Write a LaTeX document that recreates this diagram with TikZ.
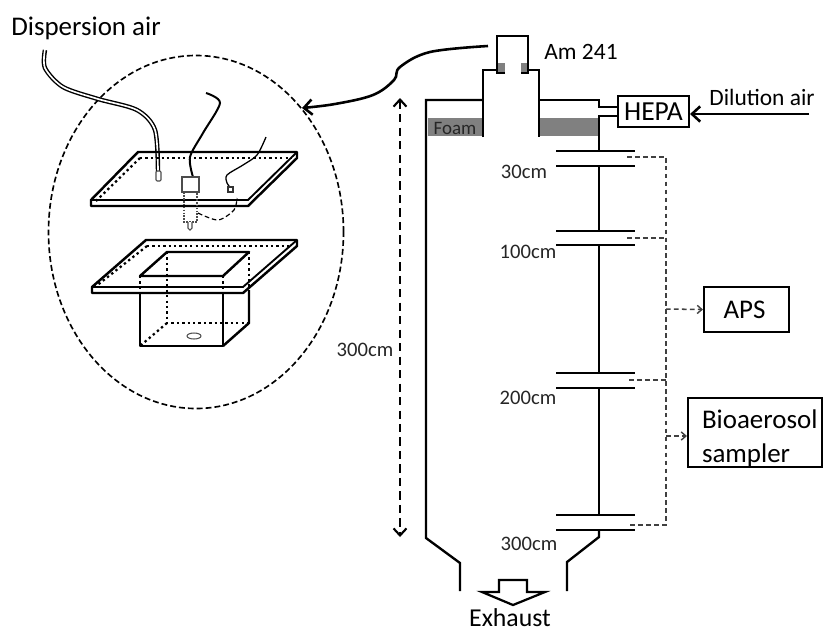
\documentclass[tikz,border=0pt]{standalone}
\usepackage{fontspec}
\setmainfont{Carlito}
\usetikzlibrary{shapes.geometric, arrows.meta, positioning}

\begin{document}
\begin{tikzpicture}[
    x=0.03cm, y=-0.03cm,
    wall/.style={line width=2pt, line join=miter},
    plate/.style={line width=2.1pt, line join=round},
    dots/.style={line width=1.9pt, dash pattern=on 2pt off 2.6pt},
    thindash/.style={line width=1.3pt, draw=black!75, dash pattern=on 4pt off 2.8pt},
    bigtext/.style={inner sep=0pt, font=\fontsize{23}{27}\selectfont},
    midtext/.style={inner sep=0pt, font=\fontsize{20}{24}\selectfont},
    cmtext/.style={inner sep=0pt, text=black!85, font=\fontsize{17.6}{21}\selectfont},
    boxnode/.style={draw, line width=1.8pt, inner sep=0pt, align=left},
    arrow/.style={-{Straight Barb[length=7pt,width=13pt]}, line width=2.2pt},
    smallarrow/.style={thindash, -{Straight Barb[length=4pt,width=7pt,line width=1.2pt]}}
]
\useasboundingbox (0,0) rectangle (824,630);

% inset
\node[draw, ellipse, line width=1.4pt, dash pattern=on 5pt off 2.6pt, minimum width=295*0.03cm, minimum height=353*0.03cm, inner sep=0pt] (inset) at (196,232) {};
\node[bigtext] (disp) at (86,28) {Dispersion air};

% tube
\draw[line width=3.8pt] plot[smooth] coordinates {(45,50) (45,68) (63,87) (98,99) (137,110) (155,130) (158,172)};
\draw[line width=1.4pt, white] plot[smooth] coordinates {(45,49) (45,68) (63,87) (98,99) (137,110) (155,130) (158,172)};
\draw[line width=0.9pt, draw=black!70, fill=white, rounded corners=1pt] (156,171) rectangle (161,181);

% upper plate
\draw[plate] (138,152) -- (297,152) -- (297,158) -- (248,206) -- (91,206) -- (91,200) -- cycle;
\draw[line width=1.6pt] (91,200) -- (248,200) -- (297,152);
\draw[dots] (140,158) -- (292,158);
\draw[dots] (140,158) -- (95,202);

% nozzle and wires
\draw[line width=1.7pt] plot[smooth] coordinates {(206,93) (220,103) (203,133) (190,157) (193,177)};
\draw[line width=1.1pt] plot[smooth] coordinates {(266,137) (257,155) (243,165) (227,175) (227,183) (230,187)};
\draw[line width=1pt, draw=black!80, fill=white] (228,187) rectangle (233,192);
\draw[line width=0.9pt, draw=black!70, fill=white] (182,177) rectangle (199,192);
\draw[line width=0.9pt, draw=black!70, dash pattern=on 1.5pt off 1pt] (184,192) -- (184,222) -- (197,222) -- (197,192);
\draw[line width=0.9pt, draw=black!70, fill=white] (188,222) -- (188,228) -- (190,230) -- (192,228) -- (192,222);
\draw[line width=1pt, dash pattern=on 4pt off 2.4pt] plot[smooth] coordinates {(198,213) (218,220) (234,210) (237,198)};

% lower plate
\draw[plate] (146,240) -- (297,240) -- (297,246) -- (243,293) -- (92,293) -- (92,287) -- cycle;
\draw[line width=1.6pt] (92,287) -- (243,287) -- (297,240);
\draw[dots] (147,246) -- (290,246);
\draw[dots] (147,246) -- (95,287);

% open box
\draw[plate] (140,276) -- (223,276) -- (249,252) -- (167,252) -- cycle;
\draw[plate] (140,293) -- (140,346) -- (223,346) -- (223,293);
\draw[plate] (223,346) -- (249,323) -- (249,290);
\draw[dots] (140,276) -- (140,293);
\draw[dots] (223,276) -- (223,293);
\draw[dots] (249,252) -- (249,290);
\draw[dots] (167,252) -- (167,323) -- (249,323);
\draw[dots] (167,323) -- (140,346);
\draw[line width=0.9pt, draw=black!70] (194,336) ellipse (7 and 3);

% curved arrow to inset
\coordinate (srcend) at (488,46);
\coordinate (insetend) at (302,108);
\draw[arrow] plot[smooth, tension=0.6] coordinates {(srcend) (430,52) (400,67) (394,80) (373,95) (335,104) (insetend)};

% chamber
\fill[black!50] (428,118) rectangle (483,136);
\fill[black!50] (539,118) rectangle (599,136);
\fill[black!50] (498,63) rectangle (505,73);
\fill[black!50] (521,63) rectangle (527,73);
\draw[wall] (460,591) -- (460,563) -- (426,538) -- (426,100) -- (483,100);
\draw[wall] (483,137) -- (483,70) -- (497,70);
\draw[wall] (505,73) -- (497,73) -- (497,36) -- (528,36) -- (528,73) -- (521,73);
\draw[wall] (528,70) -- (539,70) -- (539,137);
\draw[wall] (539,100) -- (599,100) -- (599,107) -- (618,107);
\draw[wall] (618,116) -- (599,116) -- (599,151);
\draw[wall] (599,166) -- (599,231);
\draw[wall] (599,245) -- (599,373);
\draw[wall] (599,388) -- (599,515);
\draw[wall] (599,530) -- (599,537) -- (567,562) -- (567,591);
\foreach \ya/\yb in {151/166, 231/245, 373/388, 515/530}{
    \draw[wall] (556,\ya) -- (635,\ya);
    \draw[wall] (556,\yb) -- (635,\yb);
}

% labels
\node[midtext] (am) at (581,52) {Am 241};
\node[cmtext, font=\fontsize{16.2}{19}\selectfont, text=black!85] (foam) at (455,128) {Foam};
\node[cmtext] (h30) at (524,172) {30cm};
\node[cmtext] (h100) at (528,252) {100cm};
\node[cmtext] (h200) at (528,398) {200cm};
\node[cmtext] (h300) at (529,544) {300cm};
\node[cmtext] (total) at (365,350) {300cm};

% 300cm span
\coordinate (spantop) at (400,98);
\coordinate (spanbot) at (400,537);
\draw[{Straight Barb[length=6pt,width=11pt,line width=1.8pt]}-{Straight Barb[length=6pt,width=11pt,line width=1.8pt]}, line width=1.8pt, dash pattern=on 7pt off 4.5pt] (spantop) -- (spanbot);

% hepa
\node[boxnode, minimum width=71*0.03cm, minimum height=31*0.03cm, font=\fontsize{23.5}{27}\selectfont] (hepa) at (653.5,111.5) {HEPA};
\node[midtext] (dil) at (762,97) {Dilution air};
\coordinate (dilsrc) at (809,114);
\draw[arrow] (dilsrc) -- (dilsrc -| hepa.east);

% sampling lines
\coordinate (busa) at (666,157);
\coordinate (busb) at (666,525);
\draw[thindash] (627,157) -- (busa) -- (busb) -- (630,525);
\draw[thindash] (627,238) -- (666,238);
\draw[thindash] (629,380) -- (666,380);

\node[boxnode, minimum width=85*0.03cm, minimum height=45*0.03cm, font=\fontsize{23}{27}\selectfont] (aps) at (746.5,309.5) {APS\hspace*{0.12cm}};
\node[boxnode, minimum width=134*0.03cm, minimum height=69*0.03cm, text width=125*0.03cm, font=\fontsize{23}{29}\selectfont] (bio) at (755,432.5) {\rule{0pt}{0.9cm}\hspace*{0.285cm}Bioaerosol\\\hspace*{0.285cm}sampler};
\draw[smallarrow] (666,309) -- (aps.west);
\draw[smallarrow] (666,436) -- (bio.west |- 0,436);

% exhaust
\draw[line width=1.9pt, line join=miter] (499,592) -- (499,580) -- (527,580) -- (527,592) -- (545,592) -- (513,605) -- (482,592) -- cycle;
\node[bigtext, font=\fontsize{22}{26}\selectfont] (exh) at (510,618) {Exhaust};
\end{tikzpicture}
\end{document}
